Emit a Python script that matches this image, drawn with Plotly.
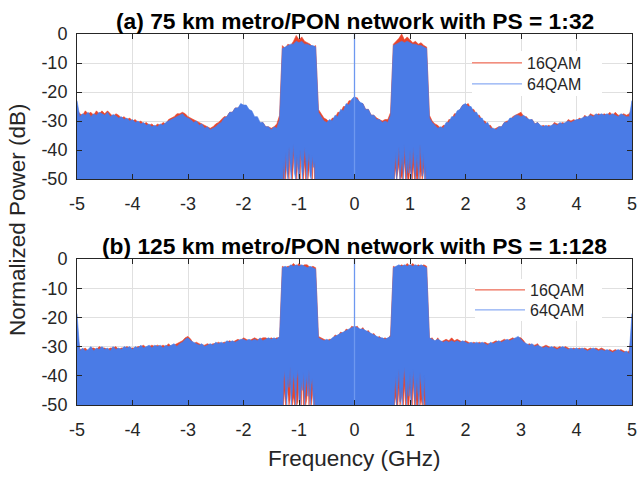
import numpy as np
import plotly.graph_objects as go

# ---------------- data ----------------
# frequency grid of the sampled envelopes (GHz)
FREQ = np.round(np.linspace(-5, 5, 201), 2)
BAND_NEG = np.round(np.linspace(-1.30, -0.70, 31), 2)
BAND_POS = np.round(np.linspace(0.70, 1.30, 31), 2)

# (a) 75 km, PS = 1:32  -- upper envelope of the normalized power (dB)
A_64QAM = [
    -23, -28.5, -27.5, -28, -27, -28.5, -27.5, -28, -27, -27.5,
    -28, -27, -28.5, -27.8, -28.2, -29, -28.5, -29.5, -29, -30,
    -29.5, -30.5, -30, -31, -30.5, -31.5, -31, -32, -31.5, -32,
    -31, -31.5, -30.5, -30, -29.5, -29, -28.5, -28, -27.5, -28.5,
    -29, -29.5, -30.5, -30, -31.5, -31, -32.5, -32, -33, -32.5,
    -32, -31, -30.5, -29, -28.5, -27, -27, -25.5, -25.5, -24,
    -24.5, -24.5, -26, -26.5, -28.5, -28.5, -30.5, -30.5, -32, -32,
    -33, -32, -32.5, -29.5, -5, -4.5, -4, -3.5, -3.5, -2.5,
    -3, -2.5, -3.5, -3.5, -4, -4, -4.5, -27, -28.5, -30,
    -30.5, -29.5, -30, -28, -28.5, -26, -26.5, -24, -24.5, -22.5,
    -21.5, -22.5, -23.5, -24, -26, -26, -28, -28, -29.5, -29.5,
    -30.5, -30, -30.5, -28, -4, -3.5, -3, -2.5, -3, -2.5,
    -3, -3.5, -3.5, -4, -4, -4.5, -5, -29, -30.5, -31.5,
    -32.5, -32, -32.5, -30.5, -30.5, -28.5, -28.5, -26.5, -26, -24.5,
    -24, -25, -25, -27, -27, -29, -29, -31, -30.5, -32.5,
    -32.5, -33, -32, -32, -30.5, -30.5, -29, -29, -28, -28,
    -28.5, -28, -29, -29.5, -29.5, -31, -30.5, -31.5, -32, -31.5,
    -32, -31.5, -31, -31.5, -30.5, -31, -30.5, -30, -30.5, -30,
    -29.5, -29.5, -29, -28.5, -28.5, -28, -28.5, -27.5, -28, -27.5,
    -28, -27.5, -28, -27.5, -28, -28.5, -27.5, -28, -28.5, -28.5,
    -23,
]
A_16QAM = [
    -26, -27.5, -28, -26.5, -27.5, -27, -28, -26.5, -27.5, -26.5,
    -27.5, -26.5, -27.5, -28.5, -27.5, -28, -29, -28.5, -29.5, -29,
    -30, -29.5, -30.5, -30, -31, -30.5, -31.5, -31, -32, -31,
    -31.5, -30.5, -31, -29.5, -29, -28.5, -27.5, -27.5, -27, -27.5,
    -28.5, -29, -29.5, -30, -30.5, -31, -31.5, -32, -32.5, -32,
    -31, -30.5, -29.5, -28.5, -28.5, -27, -27, -25.5, -25.5, -25,
    -24.5, -25.5, -26.5, -27.5, -29, -29.5, -31, -30.5, -32, -32,
    -32.5, -32, -31, -28, -4, -5, -3.5, -4, -2.5, -0.5,
    -2, -1, -2.5, -3, -3.5, -4.5, -4, -26, -27.5, -29,
    -29.5, -30.5, -29, -29, -27, -27, -25, -25, -23, -23,
    -22, -22, -24, -24, -26, -26, -28, -28, -29, -29.5,
    -30, -29.5, -29.5, -27, -3.5, -2.5, -1.5, 0, -2, -1,
    -2, -3, -2.5, -3.5, -3, -4, -4.5, -28, -30, -31,
    -31.5, -32.5, -31.5, -31.5, -29.5, -29.5, -27.5, -27.5, -26, -24.5,
    -24.5, -24, -26, -26, -28, -28, -30, -30, -31.5, -31.5,
    -33, -32.5, -32, -32, -30.5, -30, -30, -28.5, -28, -27.5,
    -27, -28.5, -28.5, -30, -29.5, -31, -30.5, -32, -31.5, -32,
    -31.5, -32, -30.5, -31, -31, -30.5, -31, -29.5, -30, -29.5,
    -30, -29, -29.5, -28, -29, -27.5, -28, -28, -27.5, -28,
    -27.5, -28, -27, -28, -27, -28, -28, -27.5, -28, -27.5,
    -26,
]
# lower edge of the dense trace inside the two signal bands (dB)
A_64QAM_LOW_NEG = [-60, -44, -50, -41, -47, -50, -39, -45, -50, -43, -38, -48, -50, -42, -46, -50,
                   -40, -44, -50, -47, -39, -43, -50, -45, -41, -49, -50, -42, -46, -44, -60]
A_64QAM_LOW_POS = [-60, -47, -41, -50, -44, -39, -50, -46, -42, -50, -38, -45, -50, -43, -48, -40,
                   -50, -44, -39, -47, -50, -42, -46, -50, -38, -44, -49, -41, -50, -45, -60]
A_16QAM_LOW_NEG = [-60, -50, -46, -50, -42, -48, -50, -40, -47, -50, -44, -39, -46, -50, -41, -45,
                   -50, -38, -46, -50, -44, -50, -41, -50, -47, -42, -45, -50, -40, -50, -60]
A_16QAM_LOW_POS = [-60, -50, -46, -50, -48, -45, -50, -49, -50, -47, -44, -50, -48, -50, -50, -46,
                   -48, -50, -45, -50, -48, -50, -50, -44, -50, -47, -50, -48, -45, -50, -60]

# (b) 125 km, PS = 1:128
B_64QAM = [
    -18.7, -31.5, -30.5, -31.5, -31, -30, -31.5, -30.5, -31, -30,
    -31, -30.5, -31.5, -30, -31, -30.5, -31, -30, -30.5, -30,
    -31, -30, -30.5, -29.5, -30.5, -30, -29.5, -30.5, -29.5, -30,
    -29.5, -30.5, -29.5, -30, -29.5, -29, -30, -29, -28.5, -27.5,
    -27, -28, -28.5, -29, -29.5, -29, -30, -29.5, -29, -29.5,
    -28.5, -29, -28.5, -29, -28, -28.5, -28, -28.5, -28, -27.5,
    -27.5, -28, -27.5, -28, -27.5, -28, -27, -28, -27.5, -27,
    -27.5, -27, -27.5, -26.5, -3, -2.5, -3, -2, -2.5, -2,
    -2.5, -2, -2.5, -3, -2.5, -3, -3.5, -27, -27.5, -28,
    -27.5, -28, -27, -26.5, -26, -25.5, -25, -24.5, -24, -23.5,
    -23, -23.5, -24, -24, -24.5, -25, -25.5, -26, -26.5, -27,
    -27, -27.5, -27, -26.5, -3, -2.5, -2, -2.5, -2, -2.5,
    -2, -2.5, -2, -2.5, -2, -2.5, -3, -27, -27.5, -28,
    -27.5, -28, -28.5, -28, -28.5, -28, -28.5, -28, -28.5, -28,
    -28.5, -29, -28.5, -29, -28.5, -29, -28.5, -29, -29.5, -28.5,
    -29, -28.5, -28, -28.5, -28, -27.5, -28, -27.5, -27, -26.5,
    -27.5, -28.5, -29, -29.5, -29, -30, -29.5, -30, -30.5, -30,
    -30.5, -30, -30.5, -31, -30.5, -30, -30.5, -31, -30.5, -31,
    -30.5, -31, -30.5, -31, -31.5, -31, -30.5, -31, -31.5, -31,
    -31.5, -31, -31.5, -32, -31.5, -31, -31.5, -32, -31.5, -32.5,
    -18.7,
]
B_16QAM = [
    -25, -31, -31, -30.5, -31.5, -30.5, -30.5, -31, -30, -30.5,
    -30.5, -31, -30.5, -30.5, -30, -31, -30.5, -30.5, -30, -30.5,
    -30.5, -30.5, -30, -30, -29.5, -30.5, -30, -29.5, -30, -29.5,
    -30, -29.5, -30, -29, -30, -29.5, -29, -28.5, -28, -27,
    -26.5, -27.5, -29, -28.5, -29, -29.5, -29.5, -29, -29.5, -29,
    -29, -28.5, -29, -28.5, -28.5, -28, -28.5, -28, -27.5, -28,
    -27, -27.5, -28, -27.5, -27, -27.5, -27.5, -27, -27, -27.5,
    -27, -27.5, -27, -27, -2.5, -3, -2.5, -2.5, -1.5, -2.5,
    -1.5, -2.5, -2, -2, -3, -2.5, -3, -26.5, -27, -27.5,
    -28, -27.5, -27.5, -26, -26.5, -25, -25.5, -24, -24.5, -23,
    -23.5, -23, -24.5, -23.5, -25, -24.5, -26, -25.5, -27, -26.5,
    -27.5, -27, -27.5, -26, -2.5, -3, -2.5, -2, -2.5, -1.5,
    -2.5, -1.5, -2.5, -2, -2.5, -2, -2.5, -27.5, -27, -28.5,
    -27, -28.5, -28, -27.5, -28, -27, -28, -27.5, -28, -28.5,
    -28, -28.5, -29, -28.5, -29, -28.5, -29, -28.5, -29, -29,
    -28.5, -28, -28.5, -28, -27.5, -28, -27.5, -27, -27.5, -27,
    -27, -28, -29.5, -29, -29.5, -29.5, -29, -30.5, -30, -29.5,
    -30, -30.5, -30, -30.5, -30, -30.5, -30, -30.5, -31, -30.5,
    -31, -30.5, -31, -30.5, -31, -30.5, -31, -30.5, -31, -30.5,
    -31, -31.5, -31, -31.5, -31, -31.5, -31, -31.5, -32, -31.5,
    -25,
]
B_64QAM_LOW_NEG = [-60, -42, -38, -47, -50, -40, -44, -37, -50, -45, -39, -43, -50, -41, -38, -48,
                   -50, -42, -45, -39, -50, -44, -40, -47, -38, -50, -43, -41, -50, -46, -60]
B_64QAM_LOW_POS = [-60, -46, -40, -50, -43, -38, -49, -44, -50, -41, -37, -45, -50, -42, -47, -39,
                   -50, -44, -38, -46, -50, -41, -45, -50, -39, -43, -48, -50, -40, -45, -60]
B_16QAM_LOW_NEG = [-60, -50, -45, -50, -42, -46, -50, -48, -41, -50, -47, -50, -44, -50, -49, -41,
                   -46, -50, -38, -50, -45, -50, -48, -41, -50, -44, -50, -47, -43, -50, -60]
B_16QAM_LOW_POS = [-60, -50, -47, -50, -50, -44, -50, -48, -45, -50, -43, -50, -46, -50, -50, -44,
                   -48, -50, -42, -50, -47, -50, -50, -43, -50, -48, -50, -46, -50, -50, -60]

# optical carrier line at DC
CARRIER_FREQ = 0.0
A_CARRIER_DB = 0.0
B_CARRIER_DB = 0.0

SERIES = ["16QAM", "64QAM"]
X_TICKS = [-5, -4, -3, -2, -1, 0, 1, 2, 3, 4, 5]
X_TICK_LABELS = ["-5", "-4", "-3", "-2", "-1", "0", "1", "2", "3", "4", "5"]
Y_TICKS = [-50, -40, -30, -20, -10, 0]
Y_TICK_LABELS = ["-50", "-40", "-30", "-20", "-10", "0"]
FLOOR_DB = -60

for arr in (A_64QAM, A_16QAM, B_64QAM, B_16QAM):
    assert len(arr) == 201

# ---------------- styling ----------------
RED = "#e8452c"
BLUE = "#4a7be6"
BLUE_LINE = "#6e98f0"
TXT = "#262626"
FONT = "Liberation Sans, Arial, sans-serif"


def polygon(upper, low_neg, low_pos):
    x = list(FREQ) + [float(FREQ[-1])] + list(BAND_POS[::-1]) + list(BAND_NEG[::-1]) + [float(FREQ[0])]
    y = list(upper) + [FLOOR_DB] + list(low_pos[::-1]) + list(low_neg[::-1]) + [FLOOR_DB]
    return x, y


fig = go.Figure()

panels = [
    ("x", "y", A_16QAM, A_64QAM, (A_16QAM_LOW_NEG, A_16QAM_LOW_POS), (A_64QAM_LOW_NEG, A_64QAM_LOW_POS),
     A_CARRIER_DB, ("legend", "legend2")),
    ("x2", "y2", B_16QAM, B_64QAM, (B_16QAM_LOW_NEG, B_16QAM_LOW_POS), (B_64QAM_LOW_NEG, B_64QAM_LOW_POS),
     B_CARRIER_DB, ("legend3", "legend4")),
]

for xa, ya, red_up, blue_up, red_low, blue_low, carrier_db, legs in panels:
    for up, low, col in ((red_up, red_low, RED), (blue_up, blue_low, BLUE)):
        px, py = polygon(up, low[0], low[1])
        fig.add_trace(go.Scatter(x=px, y=py, mode="lines", fill="toself", fillcolor=col,
                                 line=dict(color=col, width=0.6), xaxis=xa, yaxis=ya,
                                 showlegend=False, hoverinfo="skip"))
    fig.add_trace(go.Scatter(x=[CARRIER_FREQ, CARRIER_FREQ], y=[FLOOR_DB, carrier_db], mode="lines",
                             line=dict(color=BLUE_LINE, width=1.3), xaxis=xa, yaxis=ya,
                             showlegend=False, hoverinfo="skip"))
    for name, col, leg in zip(SERIES, (RED, BLUE_LINE), legs):
        fig.add_trace(go.Scatter(x=[None], y=[None], mode="lines", name=name,
                                 line=dict(color=col, width=1), xaxis=xa, yaxis=ya, legend=leg))

L, R, T, B = 77, 7, 34, 73
W = 639 - L - R
H = 478 - T - B
top_dom = [1 - 145 / H, 1]
bot_dom = [0, 146 / H]

axis_common = dict(showline=True, linecolor=TXT, linewidth=1, mirror="ticks", ticks="inside",
                   ticklen=5, tickcolor=TXT, showgrid=True, gridcolor="#e0e0e0", gridwidth=1,
                   zeroline=False, automargin=False, ticklabeloverflow="allow",
                   tickfont=dict(family=FONT, size=18, color=TXT))

xa = dict(axis_common, range=[-5, 5], tickvals=X_TICKS, ticktext=X_TICK_LABELS, ticklabelstandoff=8)
yax = dict(axis_common, range=[-50, 0], tickvals=Y_TICKS, ticktext=Y_TICK_LABELS, ticklabelstandoff=5)


def xp(p):
    return (p - L) / W


def ypx(p):
    return 1 - (p - T) / H


def leg(xpx, ypix):
    return dict(x=xp(xpx), y=ypx(ypix), xanchor="left", yanchor="middle",
                bgcolor="rgba(0,0,0,0)", borderwidth=0, font=dict(family=FONT, size=16, color=TXT),
                itemwidth=50, tracegroupgap=0)


fig.update_layout(
    width=639, height=478,
    margin=dict(l=L, r=R, t=T, b=B),
    paper_bgcolor="white", plot_bgcolor="white",
    font=dict(family=FONT, color=TXT),
    xaxis=dict(xa, domain=[0, 1], anchor="y"),
    yaxis=dict(yax, domain=top_dom, anchor="x"),
    xaxis2=dict(xa, domain=[0, 1], anchor="y2"),
    yaxis2=dict(yax, domain=bot_dom, anchor="x2"),
    legend=leg(467, 63),
    legend2=leg(467, 84),
    legend3=leg(470, 290),
    legend4=leg(470, 310),
    showlegend=True,
)

# white legend boxes (hide the grid behind the legend entries, as in the original)
for x0, x1, y0, y1 in ((472, 602, 51, 96), (475, 602, 279, 321)):
    fig.add_shape(type="rect", xref="paper", yref="paper", x0=xp(x0), x1=xp(x1), y0=ypx(y1), y1=ypx(y0),
                  fillcolor="white", line=dict(width=0), layer="above")

title_font = dict(family=FONT, size=22.8, color="black")
fig.add_annotation(text="<b>(a) 75 km metro/PON network with PS = 1:32</b>", xref="paper", yref="paper",
                   x=0.5, y=ypx(21), xanchor="center", yanchor="middle", showarrow=False,
                   font=title_font)
fig.add_annotation(text="<b>(b) 125 km metro/PON network with PS = 1:128</b>", xref="paper", yref="paper",
                   x=0.5, y=ypx(246), xanchor="center", yanchor="middle", showarrow=False,
                   font=title_font)
fig.add_annotation(text="Normalized Power (dB)", xref="paper", yref="paper",
                   x=xp(17), y=ypx(220), xanchor="center", yanchor="middle", textangle=-90,
                   showarrow=False, font=dict(family=FONT, size=22.5, color=TXT))
fig.add_annotation(text="Frequency (GHz)", xref="paper", yref="paper",
                   x=0.5, y=ypx(458), xanchor="center", yanchor="middle",
                   showarrow=False, font=dict(family=FONT, size=22.5, color=TXT))

# the page body has a default 8px margin; remove it so the 639x478 figure fills the window exactly
fig.write_html("out.html",
               config={"displayModeBar": False, "staticPlot": True},
               post_script="document.body.style.margin='0px';document.body.style.overflow='hidden';")
